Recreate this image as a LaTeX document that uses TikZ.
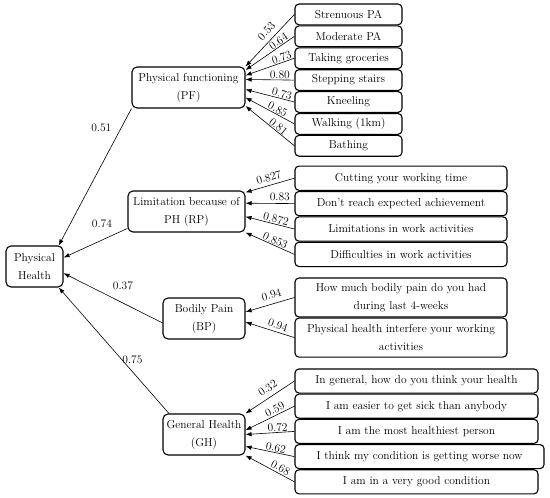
\documentclass[tikz,border=0pt]{standalone}
\usepackage{tikz}
\usetikzlibrary{arrows.meta,positioning}

\begin{document}
\begin{tikzpicture}[
    x=1pt, y=-1pt,
    font=\fontsize{11.5}{18}\selectfont,
    latent/.style={rectangle, draw, line width=1.1pt, rounded corners=5pt, align=center, minimum height=41pt, inner sep=1pt},
    item/.style={rectangle, draw, line width=1.1pt, rounded corners=4pt, align=center, inner sep=1pt},
    pfi/.style={item, minimum width=107pt, minimum height=20.8pt},
    rpi/.style={item, minimum width=212pt, minimum height=24.3pt},
    bpi/.style={item, minimum width=212pt, minimum height=39pt},
    ghi/.style={item, minimum width=243pt, minimum height=24.1pt},
    lbl/.style={inner sep=0.6pt},
    arr/.style={-{Latex[length=6pt,width=4.5pt]}, line width=0.6pt}
  ]
  \useasboundingbox (0,0) rectangle (550,498);
  % latent variables
  \node[latent, minimum width=57pt] (ph) at (34.5,266.5) {Physical\\Health};
  \node[latent, minimum width=113pt] (pf) at (188.5,87.5) {Physical functioning\\(PF)};
  \node[latent, minimum width=117pt] (rp) at (186.5,211.5) {Limitation because of\\PH (RP)};
  \node[latent, minimum width=82pt] (bp) at (204,318.5) {Bodily Pain\\(BP)};
  \node[latent, minimum width=82pt] (gh) at (204,434.5) {General Health\\(GH)};
  % items of PF
  \node[pfi] (pf1) at (348.5,14.4) {Strenuous PA};
  \node[pfi, below=0pt of pf1] (pf2) {Moderate PA};
  \node[pfi, below=0pt of pf2] (pf3) {Taking groceries};
  \node[pfi, below=0pt of pf3] (pf4) {Stepping stairs};
  \node[pfi, below=0pt of pf4] (pf5) {Kneeling};
  \node[pfi, below=0pt of pf5] (pf6) {Walking (1km)};
  \node[pfi, below=0pt of pf6] (pf7) {Bathing};
  % items of RP
  \node[rpi] (rp1) at (401,178.2) {Cutting your working time};
  \node[rpi, below=0pt of rp1] (rp2) {Don't reach expected achievement};
  \node[rpi, below=0pt of rp2] (rp3) {Limitations in work activities};
  \node[rpi, below=0pt of rp3] (rp4) {Difficulties in work activities};
  % items of BP
  \node[bpi] (bp1) at (401,297.5) {How much bodily pain do you had\\during last 4-weeks};
  \node[bpi, below=0pt of bp1] (bp2) {Physical health interfere your working\\activities};
  % items of GH
  \node[ghi] (gh1) at (416.5,381) {In general, how do you think your health};
  \node[ghi, below=0pt of gh1] (gh2) {I am easier to get sick than anybody};
  \node[ghi, below=0pt of gh2] (gh3) {I am the most healthiest person};
  \node[ghi, minimum width=249pt, below=0pt of gh3.south west, anchor=north west] (gh4) {I think my condition is getting worse now};
  \node[ghi, below=0pt of gh4.south west, anchor=north west] (gh5) {I am in a very good condition};
  % paths to physical health
  \draw[arr] (pf.south west) -- (ph.41) node[lbl, pos=0.14, left=9pt] {0.51};
  \draw[arr] (rp.196) -- (ph.17) node[lbl, pos=0.4, above=11pt] {0.74};
  \draw[arr] (bp.186) -- (ph.-13) node[lbl, pos=0.4, above=12pt] {0.37};
  \draw[arr] (gh.149) -- (ph.-41) node[lbl, pos=0.43, anchor=west] {0.75};
  % loadings
  \draw[arr] (pf1.west) -- (pf.north east) node[lbl, pos=0.44, sloped, above=4pt] {0.53};
  \draw[arr] (pf2.west) -- (pf.17) node[lbl, pos=0.27, sloped, above] {0.64};
  \draw[arr] (pf3.west) -- (pf.12) node[lbl, pos=0.23, sloped, above] {0.73};
  \draw[arr] (pf4.west) -- (pf.8) node[lbl, pos=0.3, sloped, above] {0.80};
  \draw[arr] (pf5.west) -- (pf.-2) node[lbl, pos=0.28, sloped, above] {0.73};
  \draw[arr] (pf6.west) -- (pf.-10) node[lbl, pos=0.39, sloped, above] {0.85};
  \draw[arr] (pf7.west) -- (pf.-18) node[lbl, pos=0.39, sloped, above] {0.81};
  \draw[arr] (rp1.west) -- (rp.18) node[lbl, pos=0.48, sloped, above=3pt] {0.827};
  \draw[arr] (rp2.west) -- (rp.8) node[lbl, pos=0.3, sloped, above=2pt] {0.83};
  \draw[arr] (rp3.west) -- (rp.-5) node[lbl, pos=0.4, sloped, above] {0.872};
  \draw[arr] (rp4.west) -- (rp.south east) node[lbl, pos=0.43, sloped, above] {0.853};
  \draw[arr] (bp1.west) -- (bp.9) node[lbl, pos=0.42, sloped, above=4pt] {0.94};
  \draw[arr] (bp2.west) -- (bp.-5) node[lbl, pos=0.38, sloped, above=2pt] {0.94};
  \draw[arr] (gh1.west) -- (gh.north east) node[lbl, pos=0.45, sloped, above=4pt] {0.32};
  \draw[arr] (gh2.west) -- (gh.6) node[lbl, pos=0.35, sloped, above=1pt] {0.59};
  \draw[arr] (gh3.west) -- (gh.east) node[lbl, pos=0.34, sloped, above] {0.72};
  \draw[arr] (gh4.west) -- (gh.-16) node[lbl, pos=0.4, sloped, above] {0.62};
  \draw[arr] (gh5.west) -- (gh.south east) node[lbl, pos=0.34, sloped, above=1pt] {0.68};
\end{tikzpicture}
\end{document}
